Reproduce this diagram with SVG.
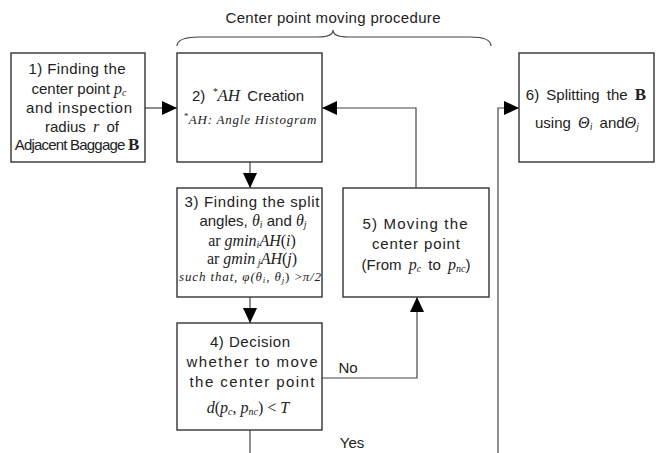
<svg xmlns="http://www.w3.org/2000/svg" width="659" height="453" viewBox="0 0 659 453">
<defs>
<marker id="ah" markerUnits="userSpaceOnUse" markerWidth="16" markerHeight="14" refX="15" refY="7" orient="auto">
<path d="M0,0 L15,7 L0,14 z" fill="#000"/>
</marker>
<style>
.box{fill:#fff;stroke:#333;stroke-width:1.4}
.ln{fill:none;stroke:#444;stroke-width:1.2}
.t{font-family:"Liberation Sans",Arial,sans-serif;font-size:15px;fill:#222;text-anchor:middle}
.mt{font-family:"Liberation Serif","Times New Roman",serif;font-size:16px;fill:#222;text-anchor:middle}
.m{font-family:"Liberation Serif","Times New Roman",serif;font-style:italic}
.r{font-family:"Liberation Serif","Times New Roman",serif;font-style:normal}
.b{font-family:"Liberation Serif","Times New Roman",serif;font-weight:bold}
.s{font-size:10px}
.sm{font-family:"Liberation Serif","Times New Roman",serif;font-style:italic;font-size:13px;fill:#222;text-anchor:middle}
</style>
</defs>
<rect width="659" height="453" fill="#fff"/>

<g id="brace">
<path class="ln" d="M177,46 C177,40 184,37 200,37 L318,37 C328,37 333,35 333,30 C333,35 338,37 348,37 L470,37 C485,37 491,40 491,46"/>
<text class="t" x="333" y="23" textLength="215" lengthAdjust="spacing">Center point moving procedure</text>
</g>

<g id="connectors">
<line class="ln" x1="145" y1="108" x2="177" y2="108" marker-end="url(#ah)"/>
<line class="ln" x1="250" y1="162" x2="250" y2="188" marker-end="url(#ah)"/>
<line class="ln" x1="250" y1="297" x2="250" y2="323" marker-end="url(#ah)"/>
<path class="ln" d="M322,378 H417 V297" marker-end="url(#ah)"/>
<path class="ln" d="M416,188 V108 H322" marker-end="url(#ah)"/>
<line class="ln" x1="250" y1="430" x2="250" y2="453"/>
<path class="ln" d="M498,453 V108 H519" marker-end="url(#ah)"/>
<text class="t" x="348" y="373">No</text>
<text class="t" x="352" y="448">Yes</text>
</g>

<g id="node1">
<rect class="box" x="11" y="53" width="134" height="109"/>
<text class="t" x="77" y="74" textLength="97" lengthAdjust="spacing">1) Finding the</text>
<text class="t" x="79" y="94">center point <tspan class="m" font-size="16">p</tspan><tspan class="m s" dy="2">c</tspan></text>
<text class="t" x="79" y="113" textLength="106" lengthAdjust="spacing">and inspection</text>
<text class="t" x="82" y="132" word-spacing="3">radius <tspan class="m" font-size="16">r</tspan> of</text>
<text class="t" x="77" y="150" letter-spacing="-0.8">Adjacent Baggage <tspan class="b" font-size="17" letter-spacing="0">B</tspan></text>
</g>

<g id="node2">
<rect class="box" x="177" y="53" width="145" height="109"/>
<text class="t" x="248" y="101" word-spacing="3">2) <tspan class="m" font-size="10" dy="-6">*</tspan><tspan class="m" font-size="17" dy="6">AH</tspan> Creation</text>
<text class="sm" x="250" y="124" textLength="133" lengthAdjust="spacing"><tspan font-size="9" dy="-5">*</tspan><tspan dy="5">AH: Angle Histogram</tspan></text>
</g>

<g id="node3">
<rect class="box" x="177" y="188" width="145" height="109"/>
<text class="t" x="252" y="207" textLength="135" lengthAdjust="spacing">3) Finding the split</text>
<text class="t" x="253" y="226">angles, <tspan class="m" font-size="16">θ</tspan><tspan class="m s" dy="2">i</tspan><tspan dy="-2"> and </tspan><tspan class="m" font-size="16">θ</tspan><tspan class="m s" dy="2">j</tspan></text>
<text class="mt" x="252" y="246">ar <tspan class="m">gmin</tspan><tspan class="m s" dy="2">i</tspan><tspan class="m" dy="-2">AH</tspan>(<tspan class="m">i</tspan>)</text>
<text class="mt" x="252" y="264">ar <tspan class="m">gmin</tspan><tspan class="m s" dy="2"> j</tspan><tspan class="m" dy="-2">AH</tspan>(<tspan class="m">j</tspan>)</text>
<text class="sm" x="250" y="281" textLength="142" lengthAdjust="spacing">such that, φ(θ<tspan font-size="9" dy="2">i</tspan><tspan dy="-2">,  θ</tspan><tspan font-size="9" dy="2">j</tspan><tspan dy="-2" class="r">) &gt;</tspan>π/2</text>
</g>

<g id="node4">
<rect class="box" x="177" y="323" width="145" height="107"/>
<text class="t" x="250" y="347" textLength="80" lengthAdjust="spacing">4) Decision</text>
<text class="t" x="252" y="367" textLength="131" lengthAdjust="spacing">whether to move</text>
<text class="t" x="252" y="387" textLength="125" lengthAdjust="spacing">the center point</text>
<text class="mt" x="248" y="413" font-size="17"><tspan class="m">d</tspan>(<tspan class="m">p</tspan><tspan class="m s" dy="2">c</tspan><tspan dy="-2">, </tspan><tspan class="m">p</tspan><tspan class="m s" dy="2">nc</tspan><tspan dy="-2">)  &lt;  </tspan><tspan class="m">T</tspan></text>
</g>

<g id="node5">
<rect class="box" x="343" y="188" width="146" height="109"/>
<text class="t" x="415" y="229" textLength="105" lengthAdjust="spacing">5) Moving the</text>
<text class="t" x="416" y="249" textLength="88" lengthAdjust="spacing">center point</text>
<text class="t" x="416" y="270" word-spacing="3">(From <tspan class="m" font-size="16">p</tspan><tspan class="m s" dy="2">c</tspan><tspan dy="-2"> to </tspan><tspan class="m" font-size="16">p</tspan><tspan class="m s" dy="2">nc</tspan><tspan dy="-2">)</tspan></text>
</g>

<g id="node6">
<rect class="box" x="519" y="53" width="135" height="109"/>
<text class="t" x="586" y="100" word-spacing="3">6) Splitting the <tspan class="b" font-size="17">B</tspan></text>
<text class="t" x="587" y="128" word-spacing="3">using <tspan class="m" font-size="16">Θ</tspan><tspan class="m s" dy="2">i</tspan><tspan dy="-2"> and</tspan><tspan class="m" font-size="16">Θ</tspan><tspan class="m s" dy="2">j</tspan></text>
</g>
</svg>
